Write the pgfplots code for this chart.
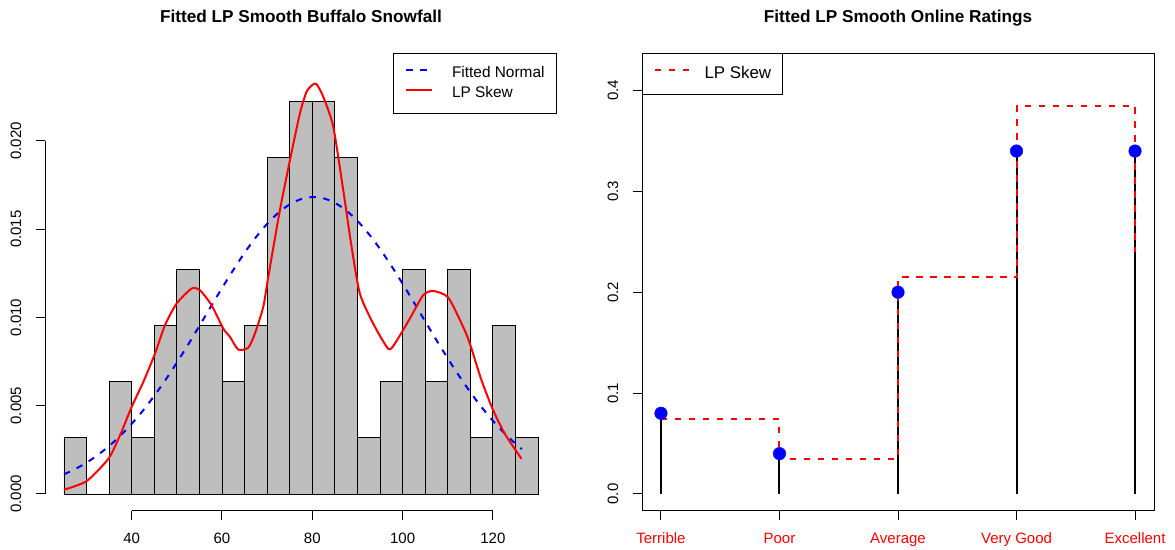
\documentclass[border=0pt]{standalone}
\usepackage{fontspec}
\setmainfont{Liberation Sans}
\usepackage{pgfplots}
\pgfplotsset{compat=1.18}
\definecolor{rgray}{HTML}{BEBEBE}
\begin{document}
\begin{tikzpicture}
\pgfplotsset{
  common/.style={
    scale only axis,
    width=512pt, height=457.5pt,
    tick align=outside,
    major tick length=9pt,
    every tick/.style={black, line width=1pt},
    xtick pos=left, ytick pos=left,
    /pgf/number format/assume math mode=true,
    ticklabel style={font=\fontsize{15}{18}\selectfont},
    xticklabel style={anchor=base, yshift=-23.4pt},
    yticklabel style={xshift=-15pt, rotate=90, anchor=base},
    scaled y ticks=false,
    title style={font=\bfseries\fontsize{17.2}{20}\selectfont, at={(0.5,1)}, anchor=base, yshift=25pt},
    clip=false,
  }
}
% ---------------- Left panel ----------------
\begin{axis}[common, name=L, at={(0pt,0pt)}, anchor=south west,
  xmin=20.8, xmax=134.2, ymin=-0.00096, ymax=0.02496,
  axis line style={draw=none},
  xtick={40,60,80,100,120},
  ytick={0,0.005,0.01,0.015,0.02},
  yticklabels={0.000,0.005,0.010,0.015,0.020},
  title={Fitted LP Smooth Buffalo Snowfall},
  legend style={at={(1,1)}, anchor=north east, draw=black, line width=1pt,
    font=\fontsize{15.4}{18}\selectfont, inner xsep=12pt, inner ysep=12.7pt,
    row sep=6pt, column sep=19pt,
    nodes={inner sep=0pt, text height=11pt, text depth=3pt, anchor=west}},
  legend image code/.code={\draw[#1] (0pt,4pt) -- (26pt,4pt);},
]
\addplot[ybar, bar width=5, bar shift=0pt, fill=rgray, draw=black, line width=0.9pt, forget plot] coordinates {
(27.5,0.003175)(32.5,0)(37.5,0.006349)(42.5,0.003175)(47.5,0.009524)(52.5,0.012698)(57.5,0.009524)
(62.5,0.006349)(67.5,0.009524)(72.5,0.019048)(77.5,0.022222)(82.5,0.022222)(87.5,0.019048)
(92.5,0.003175)(97.5,0.006349)(102.5,0.012698)(107.5,0.006349)(112.5,0.012698)(117.5,0.003175)
(122.5,0.009524)(127.5,0.003175)};
\addplot[black, line width=1pt, forget plot] coordinates {(40,-0.00096)(120,-0.00096)};
\addplot[black, line width=1pt, forget plot] coordinates {(20.8,0)(20.8,0.02)};
\addplot[blue, line width=2pt, dash pattern=on 6.5pt off 7.5pt, smooth] coordinates {
(25,0.001112)(27.5,0.001413)(30,0.001775)(32.5,0.002209)(35,0.002715)(37.5,0.003302)
(40,0.003973)(42.5,0.004723)(45,0.005559)(47.5,0.006465)(50,0.007437)(52.5,0.008462)
(55,0.009521)(57.5,0.010596)(60,0.011662)(62.5,0.012686)(65,0.013661)(67.5,0.014540)
(70,0.015305)(72.5,0.015933)(75,0.016403)(77.5,0.016703)(80,0.016818)(82.5,0.016747)
(85,0.016493)(87.5,0.016062)(90,0.015471)(92.5,0.014735)(95,0.013881)(97.5,0.012931)
(100,0.011913)(102.5,0.010853)(105,0.009780)(107.5,0.008716)(110,0.007680)(112.5,0.006692)
(115,0.005769)(117.5,0.004916)(120,0.004146)(122.5,0.003455)(125,0.002849)(126.4,0.002545)};
\addlegendentry{Fitted Normal}
\addplot[red, line width=2pt, smooth, tension=0.4] coordinates {
(25.01,0.00024)(30.03,0.00073)(34.83,0.00199)(37.41,0.00332)(39.99,0.00493)(42.57,0.00634)
(45.16,0.00795)(47.37,0.00956)(49.96,0.01079)(53.28,0.01164)(55.12,0.01154)(57.70,0.01069)
(60.29,0.00937)(61.76,0.0089)(63.61,0.00818)(65.82,0.00829)(67.30,0.00909)(69.14,0.0106)
(70.25,0.0123)(72.83,0.01608)(75.05,0.01891)(77.26,0.02156)(78.74,0.02279)(80.21,0.02321)
(81.0,0.0232)(82.42,0.02251)(84.64,0.02081)(86.85,0.01722)(88.70,0.014)(90.54,0.01135)
(93.49,0.00965)(96.81,0.00823)(98.29,0.00852)(101.61,0.00994)(104.56,0.01126)(106.78,0.0115)
(110.10,0.01113)(113.42,0.00946)(114.90,0.00852)(117.48,0.00644)(120.06,0.00474)
(122.64,0.00341)(126.33,0.00199)};
\addlegendentry{LP Skew}
\end{axis}
% ---------------- Right panel ----------------
\begin{axis}[common, name=R, at={(597pt,0pt)}, anchor=south west,
  xmin=0.84, xmax=5.16, ymin=-0.0168, ymax=0.4368,
  axis line style={line width=1pt},
  xtick={1,2,3,4,5},
  xticklabels={Terrible,Poor,Average,Very Good,Excellent},
  xticklabel style={text=red},
  ytick={0,0.1,0.2,0.3,0.4},
  yticklabels={0.0,0.1,0.2,0.3,0.4},
  title={Fitted LP Smooth Online Ratings},
  legend style={at={(0,1)}, anchor=north west, draw=black, line width=1pt,
    font=\fontsize{16.9}{20}\selectfont, inner xsep=11pt, inner ysep=13pt,
    column sep=15pt,
    nodes={inner sep=0pt, text height=12pt, text depth=3pt, anchor=west}},
  legend image code/.code={\draw[#1] (0pt,4.5pt) -- (34pt,4.5pt);},
]
\addplot[ycomb, black, line width=2pt, forget plot] coordinates {(1,0.08)(2,0.04)(3,0.2)(4,0.34)(5,0.34)};
\addplot[only marks, mark=*, mark size=6.3pt, blue, mark options={fill=blue, draw=blue}, forget plot] coordinates {(1,0.08)(2,0.04)(3,0.2)(4,0.34)(5,0.34)};
\addplot[const plot, red, line width=2pt, dash pattern=on 6.5pt off 7.5pt] coordinates {(1,0.074)(2,0.035)(3,0.215)(4,0.385)(5,0.24)};
\addlegendentry{LP Skew}
\end{axis}
\path ([xshift=-45pt,yshift=-37.1pt]L.south west) rectangle ++(1175pt,548pt);
\end{tikzpicture}
\end{document}
